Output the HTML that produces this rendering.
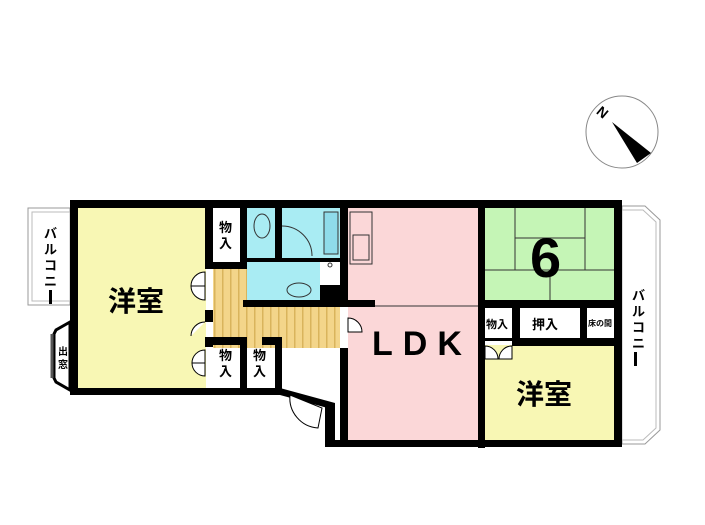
<!DOCTYPE html>
<html><head><meta charset="utf-8"><style>
html,body{margin:0;padding:0;background:#fff;width:705px;height:525px;overflow:hidden}
svg{display:block}
text{font-family:"Liberation Sans","Noto Sans CJK JP",sans-serif;font-weight:bold;fill:#000}
</style></head><body>
<svg width="705" height="525" viewBox="0 0 705 525">
<defs>
<pattern id="wood" width="8" height="10" patternUnits="userSpaceOnUse">
<rect width="8" height="10" fill="#f3d58a"/><rect x="6" width="1.5" height="10" fill="#d9b45c"/>
</pattern>
</defs>
<circle cx="622" cy="132" r="36" fill="#fff" stroke="#888" stroke-width="1"/>
<polygon points="612,122 651,153 637,163" fill="#000"/>
<text x="598" y="118" font-size="14" font-weight="normal" transform="rotate(40 604 112)">N</text>
<rect x="28" y="208" width="42" height="97" fill="#fff" stroke="#999" stroke-width="1"/>
<rect x="32" y="212" width="38" height="89" fill="none" stroke="#bbb" stroke-width="1"/>
<polygon points="622,206 645,206 660,220 660,430 645,444 622,444" fill="#fff" stroke="#999"/>
<polygon points="622,210 643,210 656,222 656,428 643,440 622,440" fill="none" stroke="#bbb"/>
<rect x="78" y="208" width="128" height="180" fill="#f8f7b4"/>
<rect x="348" y="208" width="130" height="232" fill="#fbd7d8"/>
<rect x="485" y="208" width="130" height="92" fill="#c5f5b6"/>
<rect x="485" y="345" width="130" height="95" fill="#f8f7b4"/>
<rect x="247" y="208" width="28" height="50" fill="#a9ecf3"/>
<rect x="282" y="208" width="58" height="50" fill="#a9ecf3"/>
<rect x="247" y="258" width="73" height="42" fill="#a9ecf3"/>
<rect x="213" y="268" width="34" height="80" fill="url(#wood)"/>
<rect x="247" y="300" width="93" height="48" fill="url(#wood)"/>
<g stroke="#333" stroke-width="1" fill="none">
<line x1="515" y1="208" x2="515" y2="270"/><line x1="585" y1="208" x2="585" y2="270"/>
<line x1="515" y1="238" x2="585" y2="238"/><line x1="485" y1="270" x2="615" y2="270"/>
<line x1="550" y1="270" x2="550" y2="302"/>
<line x1="348" y1="306" x2="478" y2="306"/>
<rect x="350" y="212" width="22" height="52"/>
<rect x="353" y="235" width="16" height="25"/>
<rect x="324" y="212" width="14" height="42" fill="#8fdcea"/>
<ellipse cx="262" cy="226" rx="8" ry="12"/>
<ellipse cx="299" cy="290" rx="12" ry="7"/>
<path d="M282 226 A30 30 0 0 1 312 256"/>
<circle cx="330" cy="265" r="2"/>
</g>
<g fill="#000">
<rect x="70" y="200" width="552" height="8"/>
<rect x="70" y="200" width="8" height="195"/>
<rect x="70" y="388" width="210" height="7"/>
<polygon points="280,388 335,403 335,410 280,395"/>
<rect x="325" y="403" width="10" height="44"/>
<rect x="325" y="440" width="297" height="7"/>
<rect x="614" y="200" width="8" height="247"/>
<rect x="205" y="208" width="8" height="55"/>
<rect x="205" y="310" width="8" height="12"/>
<rect x="205" y="337" width="8" height="10"/>
<rect x="205" y="262" width="42" height="7"/>
<rect x="240" y="208" width="7" height="60"/>
<rect x="213" y="337" width="30" height="8"/>
<rect x="240" y="337" width="7" height="55"/>
<rect x="262" y="337" width="20" height="8"/>
<rect x="275" y="337" width="7" height="55"/>
<rect x="275" y="208" width="7" height="52"/>
<rect x="247" y="258" width="93" height="4"/>
<rect x="320" y="285" width="20" height="15"/>
<rect x="243" y="300" width="105" height="7"/>
<rect x="340" y="208" width="8" height="92"/>
<rect x="340" y="300" width="35" height="7"/>
<rect x="340" y="348" width="8" height="99"/>
<rect x="478" y="208" width="7" height="240"/>
<rect x="478" y="300" width="137" height="8"/>
<rect x="512" y="300" width="8" height="45"/>
<rect x="580" y="300" width="7" height="45"/>
<rect x="485" y="338" width="28" height="3" />
<rect x="512" y="338" width="103" height="8"/>
<rect x="49" y="290" width="3" height="14"/>
<rect x="634" y="352" width="3" height="14"/>
</g>
<polygon points="70,322 56,330 54,334 54,378 56,382 70,390" fill="#fff" stroke="#000" stroke-width="3"/>
<line x1="52" y1="334" x2="52" y2="378" stroke="#555" stroke-width="3"/>
<g stroke="#000" stroke-width="1" fill="#fff">
<path d="M205 272 A14 14 0 0 0 191 286 L205 286Z"/>
<path d="M205 300 A14 14 0 0 1 191 286 L205 286Z"/>
<path d="M205 322 A14 14 0 0 0 191 336"/>
<path d="M205 350 A13 13 0 0 0 192 363 L205 363Z"/>
<path d="M205 376 A13 13 0 0 1 192 363 L205 363Z"/>
<path d="M348 318 A14 14 0 0 1 362 332 L348 332Z"/>
<path d="M485 346 A13 13 0 0 1 498 359 L485 359Z"/>
<path d="M512 346 A13 13 0 0 0 499 359 L512 359Z"/>
<path d="M290 395 A30 30 0 0 0 318 428 L322 408Z"/>
</g>
<text x="108" y="311" font-size="28">洋室</text>
<text x="516" y="404" font-size="28">洋室</text>
<text x="372" y="355" font-size="34" letter-spacing="10">LDK</text>
<text x="530" y="277" font-size="56" font-weight="normal">6</text>
<g font-size="13">
<text x="219" y="232">物</text><text x="219" y="248">入</text>
<text x="219" y="360">物</text><text x="219" y="376">入</text>
<text x="253" y="360">物</text><text x="253" y="376">入</text>
<text x="532" y="329">押入</text>
<text x="486" y="328" font-size="11">物入</text>
<text x="588" y="326" font-size="8">床の間</text>
<text x="44" y="238">バ</text><text x="44" y="254">ル</text><text x="44" y="270">コ</text><text x="44" y="286">ニ</text>
<text x="632" y="300">バ</text><text x="632" y="316">ル</text><text x="632" y="332">コ</text><text x="632" y="348">ニ</text>
<text x="58" y="355" font-size="10">出</text><text x="58" y="368" font-size="10">窓</text>
</g>
</svg>
</body></html>
